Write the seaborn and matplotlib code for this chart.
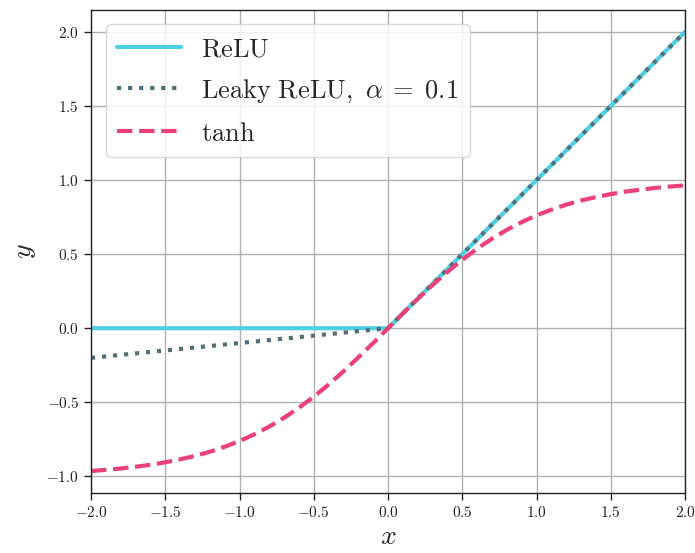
import numpy as np
import pandas as pd
import seaborn as sns
import matplotlib
matplotlib.use("Agg")
import matplotlib.pyplot as plt
from matplotlib.ticker import FuncFormatter, MultipleLocator

x_vals = [-2.0, -1.9, -1.8, -1.7, -1.6, -1.5, -1.4, -1.3, -1.2, -1.1, -1.0,
          -0.9, -0.8, -0.7, -0.6, -0.5, -0.4, -0.3, -0.2, -0.1, 0.0,
          0.1, 0.2, 0.3, 0.4, 0.5, 0.6, 0.7, 0.8, 0.9, 1.0,
          1.1, 1.2, 1.3, 1.4, 1.5, 1.6, 1.7, 1.8, 1.9, 2.0]
relu_vals = [0.0] * 21 + [0.1, 0.2, 0.3, 0.4, 0.5, 0.6, 0.7, 0.8, 0.9, 1.0,
                          1.1, 1.2, 1.3, 1.4, 1.5, 1.6, 1.7, 1.8, 1.9, 2.0]
leaky_vals = [-0.20, -0.19, -0.18, -0.17, -0.16, -0.15, -0.14, -0.13, -0.12, -0.11, -0.10,
              -0.09, -0.08, -0.07, -0.06, -0.05, -0.04, -0.03, -0.02, -0.01, 0.0,
              0.1, 0.2, 0.3, 0.4, 0.5, 0.6, 0.7, 0.8, 0.9, 1.0,
              1.1, 1.2, 1.3, 1.4, 1.5, 1.6, 1.7, 1.8, 1.9, 2.0]
tanh_vals = [-0.964, -0.956, -0.947, -0.935, -0.922, -0.905, -0.885, -0.862, -0.834, -0.800, -0.762,
             -0.716, -0.664, -0.604, -0.537, -0.462, -0.380, -0.291, -0.197, -0.100, 0.0,
             0.100, 0.197, 0.291, 0.380, 0.462, 0.537, 0.604, 0.664, 0.716, 0.762,
             0.800, 0.834, 0.862, 0.885, 0.905, 0.922, 0.935, 0.947, 0.956, 0.964]
labels = [r"$\mathrm{ReLU}$", r"$\mathrm{Leaky\ ReLU,}\ \alpha\;=\;0.1$", r"$\tanh$"]
colors = ["#4dd0e1", "#546e7a", "#ec407a"]
styles = ["-", ":", "--"]

sns.set_style("ticks")
plt.rcParams["mathtext.fontset"] = "cm"
plt.rcParams["font.family"] = ["DejaVu Serif"]

fig = plt.figure(figsize=(6.95, 5.53), dpi=100)
ax = fig.add_axes([0.131, 0.1085, 0.8546, 0.8735])

for ys, lab, c, ls in zip([relu_vals, leaky_vals, tanh_vals], labels, colors, styles):
    sns.lineplot(x=x_vals, y=ys, ax=ax, color=c, linestyle=ls, linewidth=3, label=lab)

ax.set_xlim(-2.0, 2.0)
ax.xaxis.set_major_locator(MultipleLocator(0.5))
ax.yaxis.set_major_locator(MultipleLocator(0.5))
fmt = FuncFormatter(lambda v, p: "$%.1f$" % v if abs(v) > 1e-9 else "$0.0$")
ax.xaxis.set_major_formatter(fmt)
ax.yaxis.set_major_formatter(fmt)
ax.tick_params(labelsize=11, direction="out", length=5, width=1, colors="#222222")
ax.grid(True, color="#b0b0b0", linewidth=1)
ax.set_axisbelow(True)
for s in ax.spines.values():
    s.set_color("#222222")
    s.set_linewidth(1)
ax.set_xlabel(r"$x$", fontsize=20, labelpad=2)
ax.set_ylabel(r"$y$", fontsize=20, labelpad=6)
leg = ax.legend(loc="upper left", fontsize=19, handlelength=2.4, handletextpad=0.75,
                framealpha=0.8, borderpad=0.45, labelspacing=0.6, borderaxespad=0.55)

fig.savefig("out.png", dpi=100)
